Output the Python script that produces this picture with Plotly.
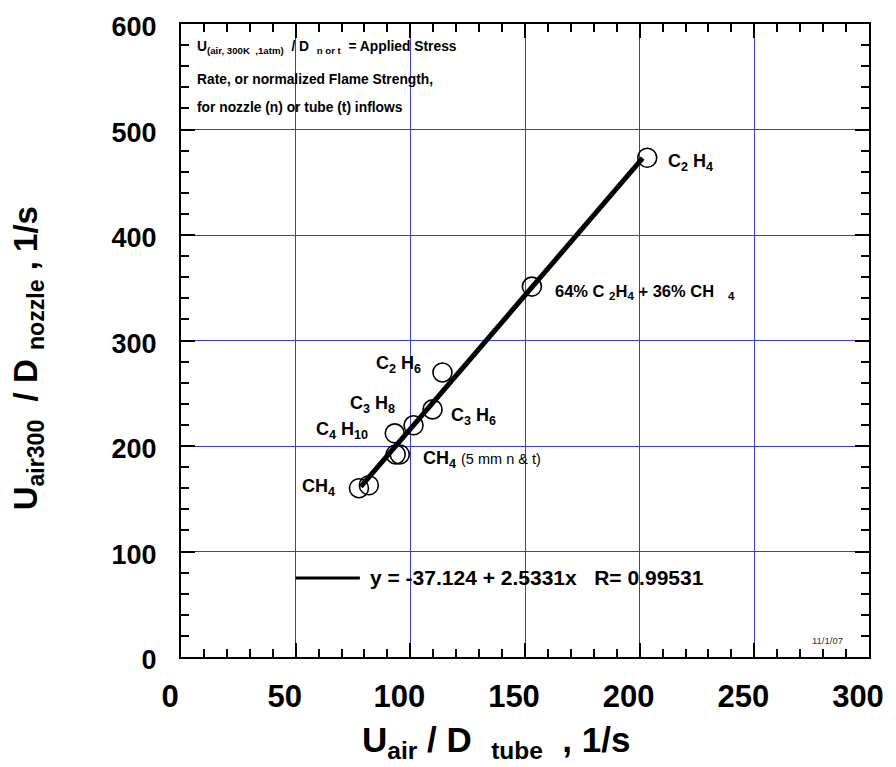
import plotly.graph_objects as go

# ---- data ----
species = ["C2H4", "64% C2H4 + 36% CH4", "C2H6", "C3H6", "C3H8", "C4H10",
           "CH4 (5 mm) a", "CH4 (5 mm) b", "CH4 a", "CH4 b"]
x_tube = [203.3, 153.0, 114.0, 109.7, 101.4, 93.2, 93.6, 95.4, 77.6, 81.9]
y_nozzle = [473.2, 351.1, 269.7, 234.7, 219.6, 212.0, 192.0, 192.0, 160.0, 162.8]

fit_intercept = -37.124
fit_slope = 2.5331
fit_r = 0.99531

x_ticks = [0, 50, 100, 150, 200, 250, 300]
y_ticks = [0, 100, 200, 300, 400, 500, 600]

FONT = "Liberation Sans, Arial, sans-serif"

fit_x = [min(x_tube) + 0.8, max(x_tube) - 2.0]
fit_y = [fit_intercept + fit_slope * v for v in fit_x]

fig = go.Figure()
fig.add_trace(go.Scatter(x=fit_x, y=fit_y, mode="lines",
                         line=dict(color="black", width=5), showlegend=False))
fig.add_trace(go.Scatter(x=x_tube, y=y_nozzle, mode="markers",
                         marker=dict(symbol="circle-open", size=19,
                                     color="black", line=dict(width=1.6)),
                         showlegend=False))

axis_common = dict(
    showline=True, linecolor="black", linewidth=2, mirror="allticks",
    ticks="inside", ticklen=14, tickwidth=2, tickcolor="black",
    showgrid=True, gridcolor="#3a3ad6", gridwidth=1,
    zeroline=False,
)

fig.update_layout(
    width=896, height=767,
    margin=dict(l=181, r=23, t=23, b=110),
    paper_bgcolor="white", plot_bgcolor="white",
    font=dict(family=FONT, color="black"),
    xaxis=dict(range=[0, 300], tickvals=x_ticks,
               minor=dict(dtick=10, ticks="inside", ticklen=8, tickwidth=2,
                          tickcolor="black", showgrid=False),
               ticklabelshift=-11, ticklabelstandoff=11,
               tickfont=dict(family=FONT, size=31, color="black", weight="bold"),
               **axis_common),
    yaxis=dict(range=[0, 600], tickvals=y_ticks,
               minor=dict(dtick=20, ticks="inside", ticklen=8, tickwidth=2,
                          tickcolor="black", showgrid=False),
               ticklabelstandoff=17, ticklabelshift=3,
               tickfont=dict(family=FONT, size=27, color="black", weight="bold"),
               **axis_common),
)

# axis titles
fig.add_annotation(x=(498 - 181) / 692, y=(657 - 742) / 634, xref="paper", yref="paper",
                   showarrow=False, xanchor="center", yanchor="middle",
                   text="U<sub>air</sub> / D  <sub>tube</sub>  , 1/s",
                   font=dict(family=FONT, size=35, color="black", weight="bold"))
fig.add_annotation(x=(28 - 181) / 692, y=(657 - 358) / 634, xref="paper", yref="paper",
                   showarrow=False, textangle=-90, xanchor="center", yanchor="middle",
                   text="U<sub>air300</sub>  / D <sub>nozzle</sub> , 1/s",
                   font=dict(family=FONT, size=33, color="black", weight="bold"))

def ann(x, y, text, size=18, bold=True, xanchor="left"):
    fig.add_annotation(x=x, y=y, xref="x", yref="y", text=text, showarrow=False,
                       xanchor=xanchor, yanchor="middle",
                       font=dict(family=FONT, size=size, color="black",
                                 weight="bold" if bold else "normal"))

ann(211.5, 469, "C<sub>2</sub> H<sub>4</sub>")
ann(162.1, 346, "64% C <sub>2</sub>H<sub>4</sub> + 36% CH &nbsp; <sub>4</sub>", size=16.5)
ann(84, 277, "C<sub>2</sub> H<sub>6</sub>")
ann(73, 239, "C<sub>3</sub> H<sub>8</sub>")
ann(117, 228, "C<sub>3</sub> H<sub>6</sub>")
ann(58, 215, "C<sub>4</sub> H<sub>10</sub>")
ann(104.5, 187, "CH<sub>4</sub> <span style='font-size:14.5px;font-weight:normal'>(5 mm n &amp; t)</span>")
ann(52, 161, "CH<sub>4</sub>")

# text box (three lines)
box_lines = [
    "U<sub>(air, 300K &nbsp;,1atm)</sub> &nbsp;/ D &nbsp;<sub>n or t</sub> &nbsp;= Applied Stress",
    "Rate, or normalized Flame Strength,",
    "for nozzle (n) or tube (t) inflows",
]
box_y_px = [47, 79, 107]
for txt, ypx in zip(box_lines, box_y_px):
    fig.add_annotation(x=(195 - 181) / 692, y=(657 - ypx) / 634, xref="paper", yref="paper",
                       showarrow=False, xanchor="left", yanchor="middle", text=txt,
                       font=dict(family=FONT, size=13.8, color="black", weight="bold"))

# legend-like fit label
fig.add_shape(type="line", xref="x", yref="y", x0=50, x1=78, y0=75, y1=75,
              line=dict(color="black", width=3))
fig.add_annotation(x=81.5, y=75, xref="x", yref="y", showarrow=False,
                   xanchor="left", yanchor="middle",
                   text=f"y = {fit_intercept} + {fit_slope}x &nbsp; R= {fit_r}",
                   font=dict(family=FONT, size=21, color="black", weight="bold"))

fig.add_annotation(x=(849 - 181) / 692, y=(657 - 640) / 634, xref="paper", yref="paper",
                   showarrow=False, xanchor="right", yanchor="middle", text="11/1/07",
                   font=dict(family=FONT, size=9.5, color="#333333"))

fig.write_html("out.html")
